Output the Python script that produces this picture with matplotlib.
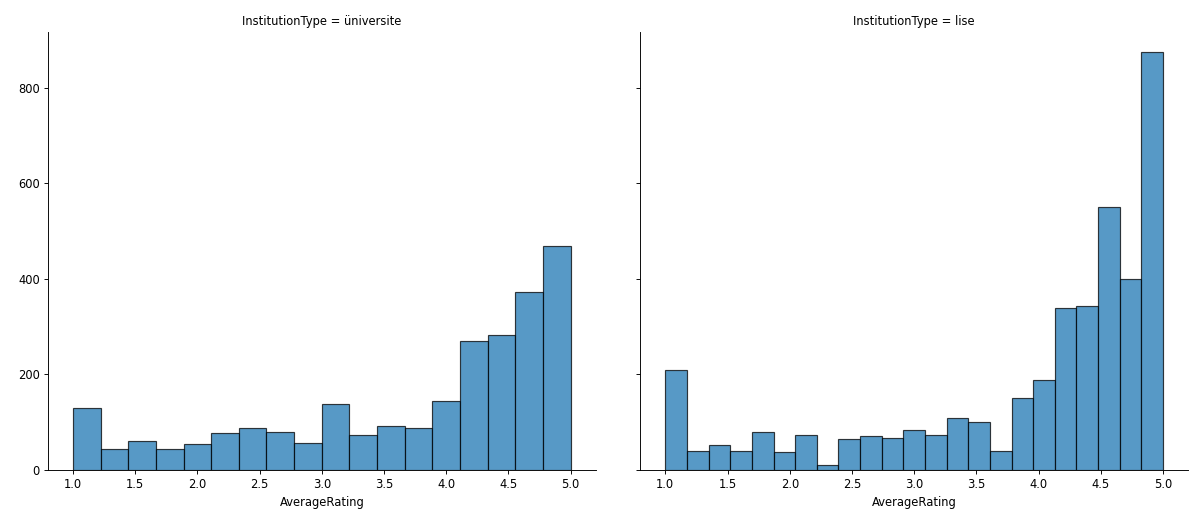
import numpy as np
import matplotlib
matplotlib.use("Agg")
import matplotlib.pyplot as plt
import seaborn as sns

# histogram counts, one list per facet
uni_counts = [129, 45, 60, 45, 54, 78, 89, 80, 57, 138, 73, 93, 87, 145,
              271, 282, 373, 470]
lise_counts = [210, 40, 52, 39, 80, 38, 73, 10, 65, 71, 67, 83, 73, 109,
               101, 39, 151, 188, 340, 344, 550, 400, 876]
facets = ["üniversite", "lise"]
rating_min, rating_max = 1.0, 5.0

# the reference looks like a downscaled render, so shrink everything a bit
s = 0.83
plt.rcParams.update({
    "font.size": 10 * s,
    "axes.titlesize": 10 * s,
    "axes.labelsize": 10 * s,
    "axes.linewidth": 0.8 * s,
    "xtick.major.size": 3.5 * s,
    "ytick.major.size": 3.5 * s,
    "xtick.major.width": 0.8 * s,
    "ytick.major.width": 0.8 * s,
    "xtick.major.pad": 3.5 * s,
    "ytick.major.pad": 3.5 * s,
    "axes.labelpad": 4.0 * s,
    "axes.titlepad": 6.0 * s,
})

fig, axes = plt.subplots(1, 2, figsize=(11.92, 5.09), dpi=100, sharey=True)
fig.subplots_adjust(left=0.0403, right=0.9966, bottom=0.0766, top=0.937,
                    wspace=0.082)

for ax, name, counts in zip(axes, facets, [uni_counts, lise_counts]):
    edges = np.linspace(rating_min, rating_max, len(counts) + 1)
    centers = (edges[:-1] + edges[1:]) / 2
    ax.hist(centers, bins=edges, weights=counts, color="C0", alpha=0.75,
            edgecolor="black", linewidth=0.85)
    ax.set_title(f"InstitutionType = {name}")
    ax.set_xlabel("AverageRating")
    ax.set_xticks([1.0, 1.5, 2.0, 2.5, 3.0, 3.5, 4.0, 4.5, 5.0])
    sns.despine(ax=ax)

axes[0].set_yticks([0, 200, 400, 600, 800])
axes[0].set_ylim(0, 917)

fig.savefig("out.png", dpi=100)
